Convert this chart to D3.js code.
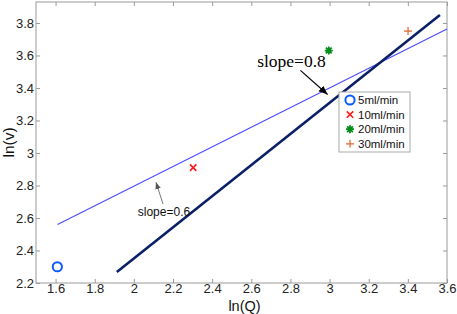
<!DOCTYPE html>
<html>
<head>
<meta charset="utf-8">
<script src="https://cdn.jsdelivr.net/npm/d3@7"></script>
<style>
  body { margin: 0; background: #fff; }
  svg { display: block; font-family: Arial, "Liberation Sans", sans-serif; }
</style>
</head>
<body>
<div id="chart"></div>
<script>
// data
const flowLabels = ["5ml/min", "10ml/min", "20ml/min", "30ml/min"];
const lnQ = [1.609, 2.303, 2.996, 3.401];
const lnV = [2.30, 2.91, 3.63, 3.75];
const fit06X = [1.61, 3.6];
const fit06Y = [2.56, 3.763];
const fit08X = [1.913, 3.564];
const fit08Y = [2.268, 3.849];
const xTicks = [1.6, 1.8, 2, 2.2, 2.4, 2.6, 2.8, 3, 3.2, 3.4, 3.6];
const yTicks = [2.2, 2.4, 2.6, 2.8, 3, 3.2, 3.4, 3.6, 3.8];

var margin = {top: 2, right: 10, bottom: 31, left: 36},
    width = 457 - margin.left - margin.right,
    height = 314 - margin.top - margin.bottom;

const svg = d3.select("#chart")
  .append("svg")
    .attr("width", 457)
    .attr("height", 314)
  .append("g")
    .attr("transform", `translate(${margin.left},${margin.top})`);

const x = d3.scaleLinear().domain([1.5, 3.6]).range([0, width]);
const y = d3.scaleLinear().domain([2.2, 3.929]).range([height, 0]);

const axisColor = "#9a9a9a";
const fmt = d => (d === 2 || d === 3) ? String(d) : d.toFixed(1);

// axes, ticks inward, on all sides
function styleAxis(g) {
  g.select(".domain").remove();
  g.selectAll("line").attr("stroke", axisColor);
  g.selectAll("text").attr("fill", "#222").style("font-size", "13px");
}
svg.append("g")
  .attr("transform", `translate(0,${height})`)
  .call(d3.axisBottom(x).tickValues(xTicks).tickSize(-4).tickPadding(1).tickFormat(fmt))
  .call(styleAxis);
svg.append("g")
  .call(d3.axisTop(x).tickValues(xTicks).tickSize(-4).tickFormat(""))
  .call(styleAxis);
svg.append("g")
  .call(d3.axisLeft(y).tickValues(yTicks).tickSize(-4).tickPadding(2).tickFormat(fmt))
  .call(styleAxis);
svg.append("g")
  .attr("transform", `translate(${width},0)`)
  .call(d3.axisRight(y).tickValues(yTicks).tickSize(-4).tickFormat(""))
  .call(styleAxis);

svg.append("rect")
  .attr("width", width).attr("height", height)
  .attr("fill", "none").attr("stroke", axisColor).attr("stroke-width", 1);

// axis titles
svg.append("text")
  .attr("x", width / 2 + 3).attr("y", height + 27.5)
  .attr("text-anchor", "middle")
  .style("font-size", "14.5px").attr("fill", "#111")
  .text("ln(Q)");
svg.append("text")
  .attr("transform", `translate(${-22},${height / 2}) rotate(-90)`)
  .attr("text-anchor", "middle")
  .style("font-size", "15.5px").attr("fill", "#111")
  .text("ln(v)");

// fit lines
const line = d3.line().x(d => x(d[0])).y(d => y(d[1]));
svg.append("path")
  .datum(d3.zip(fit06X, fit06Y))
  .attr("d", line)
  .attr("stroke", "#4a4aff").attr("stroke-width", 1.1).attr("fill", "none");
svg.append("path")
  .datum(d3.zip(fit08X, fit08Y))
  .attr("d", line)
  .attr("stroke", "#0a1f66").attr("stroke-width", 2.6).attr("fill", "none");

// markers
const markerColors = ["#0b5cff", "#ff1a1a", "#008c1a", "#e3642e"];
function drawMarker(g, i, cx, cy) {
  const c = markerColors[i];
  if (i === 0) {
    g.append("circle").attr("cx", cx).attr("cy", cy).attr("r", 4.6)
      .attr("fill", "none").attr("stroke", c).attr("stroke-width", 2);
  } else if (i === 1) {
    const r = 3.2;
    g.append("path").attr("d", `M${cx-r},${cy-r}L${cx+r},${cy+r}M${cx-r},${cy+r}L${cx+r},${cy-r}`)
      .attr("stroke", c).attr("stroke-width", 1.6);
  } else if (i === 2) {
    const r = 4, d = r * 0.72;
    g.append("path").attr("d", `M${cx},${cy-r}V${cy+r}M${cx-r},${cy}H${cx+r}M${cx-d},${cy-d}L${cx+d},${cy+d}M${cx-d},${cy+d}L${cx+d},${cy-d}`)
      .attr("stroke", c).attr("stroke-width", 1.8);
  } else {
    const r = 4;
    g.append("path").attr("d", `M${cx},${cy-r}V${cy+r}M${cx-r},${cy}H${cx+r}`)
      .attr("stroke", c).attr("stroke-width", 1.2);
  }
}
lnQ.forEach((q, i) => drawMarker(svg, i, x(q), y(lnV[i])));

// annotations
const defs = svg.append("defs");
function arrowHead(id, color, size) {
  defs.append("marker")
    .attr("id", id).attr("viewBox", "0 0 10 10")
    .attr("refX", 10).attr("refY", 5)
    .attr("markerWidth", size).attr("markerHeight", size)
    .attr("markerUnits", "userSpaceOnUse")
    .attr("orient", "auto")
    .append("path").attr("d", "M0,1L10,5L0,9Z").attr("fill", color);
}
arrowHead("arrBlack", "#000", 9);
arrowHead("arrGray", "#555", 7);

svg.append("text")
  .attr("x", x(2.63)).attr("y", y(3.53))
  .style("font-family", "'Liberation Serif', 'Times New Roman', serif")
  .style("font-size", "17.5px").attr("fill", "#000")
  .text("slope=0.8");
svg.append("line")
  .attr("x1", x(2.851)).attr("y1", y(3.508))
  .attr("x2", x(2.99)).attr("y2", y(3.36))
  .attr("stroke", "#000").attr("stroke-width", 1.2)
  .attr("marker-end", "url(#arrBlack)");

svg.append("text")
  .attr("x", x(2.02)).attr("y", y(2.612))
  .style("font-size", "12px").attr("fill", "#111")
  .text("slope=0.6");
svg.append("line")
  .attr("x1", x(2.149)).attr("y1", y(2.686))
  .attr("x2", x(2.113)).attr("y2", y(2.82))
  .attr("stroke", "#666").attr("stroke-width", 0.9)
  .attr("marker-end", "url(#arrGray)");

// legend
const legend = svg.append("g").attr("transform", `translate(${339 - margin.left},${92 - margin.top})`);
legend.append("rect")
  .attr("width", 71).attr("height", 60)
  .attr("fill", "#fff").attr("stroke", "#aaa").attr("stroke-width", 1);
flowLabels.forEach((lab, i) => {
  const ly = 8 + i * 14.6;
  drawMarker(legend, i, 11, ly);
  legend.append("text")
    .attr("x", 19).attr("y", ly + 4)
    .style("font-size", "11.5px").attr("fill", "#111")
    .text(lab);
});
</script>
</body>
</html>
